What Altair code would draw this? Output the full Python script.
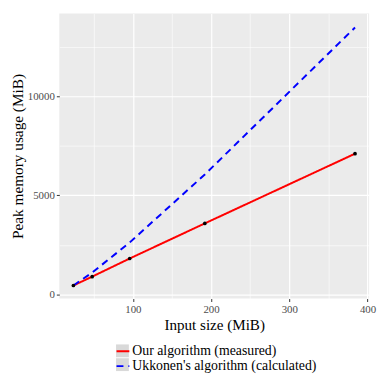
import altair as alt
import pandas as pd

input_sizes = [24, 48, 96, 192, 384]
measured = [448, 896, 1811, 3582, 7100]
calculated = [450, 1100, 2620, 6050, 13470]
series_names = ["Our algorithm (measured)", "Ukkonen's algorithm (calculated)"]
x_major = [100, 200, 300, 400]
x_minor = [50, 150, 250, 350]
y_major = [0, 5000, 10000]
y_minor = [2500, 7500, 12500]

rows = []
for x, m in zip(input_sizes, measured):
    rows.append({"x": x, "y": m, "series": series_names[0]})
for x, c in zip(input_sizes, calculated):
    rows.append({"x": x, "y": c, "series": series_names[1]})
df = pd.DataFrame(rows)
df["key"] = df["series"]
pts = pd.DataFrame({"x": input_sizes, "y": measured})

FONT = "Liberation Serif"
xscale = alt.Scale(domain=[6, 402], nice=False, zero=False)
yscale = alt.Scale(domain=[-210, 14180], nice=False, zero=False)

LEG_X, LEG_Y = 57, 335
LEG_FS = 14

minor_layer = alt.Chart(pts).mark_point(opacity=0).encode(
    x=alt.X("x:Q", scale=xscale, axis=alt.Axis(values=x_minor, orient="bottom", labels=False, ticks=False,
                                                domain=False, title=None, grid=True, gridColor="white", gridWidth=0.6)),
    y=alt.Y("y:Q", scale=yscale, axis=alt.Axis(values=y_minor, orient="left", labels=False, ticks=False,
                                                domain=False, title=None, grid=True, gridColor="white", gridWidth=0.6)),
)

# grey key backgrounds of the legend (ggplot style); marks filtered out, only the legend remains
key_bg = alt.Chart(df).transform_filter("false").mark_point(filled=True, color="#D9D9D9", opacity=1).encode(
    x=alt.X("x:Q", scale=xscale, axis=None),
    y=alt.Y("y:Q", scale=yscale, axis=None),
    shape=alt.Shape("key:N", scale=alt.Scale(domain=["a", "b"], range=["square", "square"]),
                    legend=alt.Legend(title=None, orient="none", legendX=LEG_X, legendY=LEG_Y, direction="vertical",
                                      symbolSize=169, symbolFillColor="#D9D9D9", symbolStrokeWidth=0,
                                      symbolOpacity=1, labelExpr="''", labelFont=FONT, labelFontSize=LEG_FS,
                                      rowPadding=-1, labelOffset=2, zindex=0)),
)

lines = alt.Chart(df).mark_line(strokeWidth=2).encode(
    x=alt.X("x:Q", scale=xscale, axis=alt.Axis(values=x_major, orient="bottom", title="Input size (MiB)", format="d",
                                                grid=True, gridColor="white", gridWidth=1.2, domain=False,
                                                tickColor="#333333", tickSize=3, labelColor="#4d4d4d",
                                                labelFontSize=11, labelFont=FONT, labelPadding=2,
                                                titleFont=FONT, titleFontSize=15.3, titleFontWeight="normal",
                                                titleColor="black", titlePadding=3)),
    y=alt.Y("y:Q", scale=yscale, axis=alt.Axis(values=y_major, orient="left", title="Peak memory usage (MiB)", format="d",
                                                grid=True, gridColor="white", gridWidth=1.2, domain=False,
                                                tickColor="#333333", tickSize=3, labelColor="#4d4d4d",
                                                labelFontSize=11, labelFont=FONT, labelPadding=2,
                                                titleFont=FONT, titleFontSize=15.5, titleFontWeight="normal",
                                                titleColor="black", titlePadding=2)),
    color=alt.Color("series:N", scale=alt.Scale(domain=series_names, range=["#FF0000", "#0000FF"]),
                    legend=alt.Legend(title=None, orient="none", legendX=LEG_X, legendY=LEG_Y, direction="vertical",
                                      symbolType="stroke", symbolSize=169, symbolStrokeWidth=2,
                                      labelFont=FONT, labelFontSize=LEG_FS, labelColor="black", labelLimit=400,
                                      rowPadding=-1, labelOffset=2, zindex=1)),
    strokeDash=alt.StrokeDash("series:N", scale=alt.Scale(domain=series_names, range=[[1, 0], [7, 5]]), legend=None),
)

points = alt.Chart(pts).mark_circle(size=14, color="black", opacity=1).encode(
    x=alt.X("x:Q", scale=xscale, axis=None),
    y=alt.Y("y:Q", scale=yscale, axis=None),
)

chart = alt.layer(minor_layer, key_bg, lines, points).resolve_axis(x="independent", y="independent").properties(
    width=314, height=289,
    autosize=alt.AutoSizeParams(type="none"),
    padding={"left": 52, "top": 3, "right": 8, "bottom": 74},
).configure_view(fill="#EBEBEB", stroke=None)

chart.save("out.html", embed_options={"renderer": "svg", "actions": False})
